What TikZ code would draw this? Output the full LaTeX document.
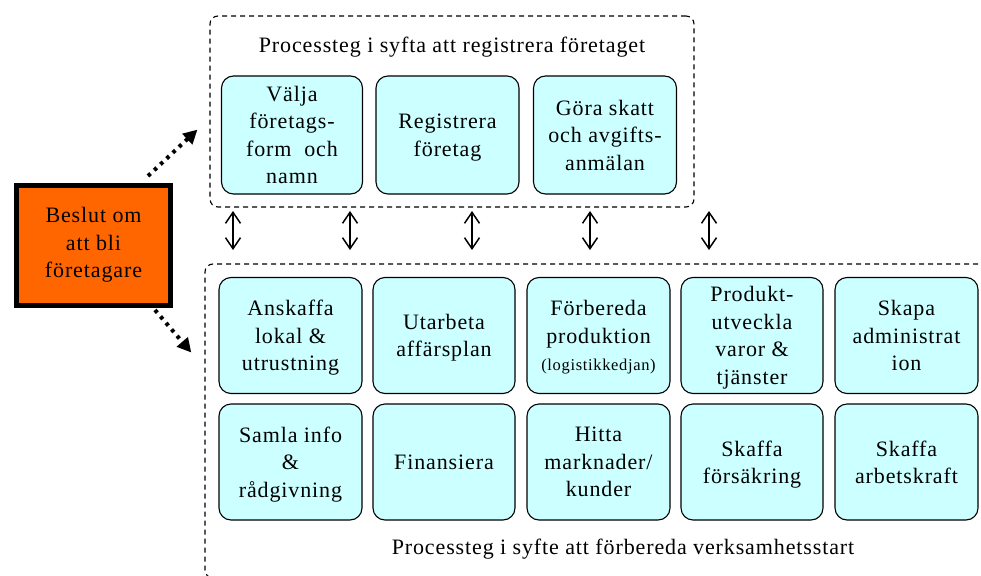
\documentclass[tikz,border=0pt]{standalone}
\usepackage{fontspec}
\setmainfont[LetterSpace=4]{Liberation Serif}
\usetikzlibrary{arrows.meta}
\definecolor{boxfill}{HTML}{CCFFFF}
\definecolor{decfill}{HTML}{FF6600}
\tikzset{
  stepbox/.style={draw=black, line width=1.1pt, fill=boxfill, rounded corners=12pt,
    align=center, inner sep=0pt, text depth=-3pt, font=\fontsize{22}{27.5}\selectfont, minimum height=116pt},
  frame/.style={draw=black, line width=1.1pt, dash pattern=on 5pt off 4pt, rounded corners=8pt, inner sep=0pt},
  dbl/.style={line width=1.5pt, {Straight Barb[length=11pt,width=15pt,line width=1.5pt]}-{Straight Barb[length=11pt,width=15pt,line width=1.5pt]}},
  dotarrow/.style={line width=4pt, dash pattern=on 3.5pt off 5pt, -{Triangle[length=14pt,width=14pt]}, shorten >=-2pt},
  title/.style={font=\fontsize{22}{27}\selectfont, inner sep=0pt}
}
\begin{document}
\begin{tikzpicture}[x=1pt,y=-1pt]
\useasboundingbox (0,0) rectangle (981,575);
\clip (0,0) rectangle (981,575);
% frames
\node[frame, minimum width=484pt, minimum height=191pt] (topframe) at (452,111.5) {};
\node[frame, minimum width=790pt, minimum height=314pt] (botframe) at (600,421) {};
\node[title] (toptitle) at (452,47) {Processteg i syfta att registrera företaget};
\node[title] (bottitle) at (623,549) {Processteg i syfte att förbereda verksamhetsstart};
% top boxes
\node[stepbox, minimum width=141pt, minimum height=118pt] (t1) at (292,135) {Välja\\företags-\\form~ och\\namn};
\node[stepbox, minimum width=143pt, minimum height=118pt] (t2) at (447.5,135) {Registrera\\företag};
\node[stepbox, minimum width=143pt, minimum height=118pt] (t3) at (605,135) {Göra skatt\\och avgifts-\\anmälan};
% bottom row 1
\node[stepbox, minimum width=143pt] (b11) at (290.5,335.5) {Anskaffa\\lokal \&\\utrustning};
\node[stepbox, minimum width=142pt] (b12) at (444,335.5) {Utarbeta\\affärsplan};
\node[stepbox, minimum width=143pt] (b13) at (598.5,335.5) {Förbereda\\produktion\\{\fontsize{16.5}{18}\selectfont (logistikkedjan)}};
\node[stepbox, minimum width=142pt] (b14) at (752,335.5) {Produkt-\\utveckla\\varor \&\\tjänster};
\node[stepbox, minimum width=143pt] (b15) at (906.5,335.5) {Skapa\\administrat\\ion};
% bottom row 2
\node[stepbox, minimum width=143pt] (b21) at (290.5,462) {Samla info\\\&\\rådgivning};
\node[stepbox, minimum width=142pt] (b22) at (444,462) {Finansiera};
\node[stepbox, minimum width=143pt] (b23) at (598.5,462) {Hitta\\marknader/\\kunder};
\node[stepbox, minimum width=142pt] (b24) at (752,462) {Skaffa\\försäkring};
\node[stepbox, minimum width=143pt] (b25) at (906.5,462) {Skaffa\\arbetskraft};
% decision box
\node[draw=black, line width=5pt, fill=decfill, minimum width=154pt, minimum height=120pt,
  align=center, inner sep=0pt, font=\fontsize{22}{27.5}\selectfont] (dec) at (93.5,245) {Beslut om\\att bli\\företagare};
% double arrows
\foreach \i/\x in {1/233,2/350,3/472,4/590,5/709}{
  \coordinate (u\i) at (\x,211);
  \coordinate (l\i) at (\x,250);
  \draw[dbl] (u\i) -- (l\i);
}
% dotted arrows
\coordinate (upend) at (196,131);
\coordinate (loend) at (190,351);
\coordinate (upstart) at (148,176);
\coordinate (lostart) at (155,310);
\draw[dotarrow] (upstart) -- (upend);
\draw[dotarrow] (lostart) -- (loend);
\end{tikzpicture}
\end{document}
